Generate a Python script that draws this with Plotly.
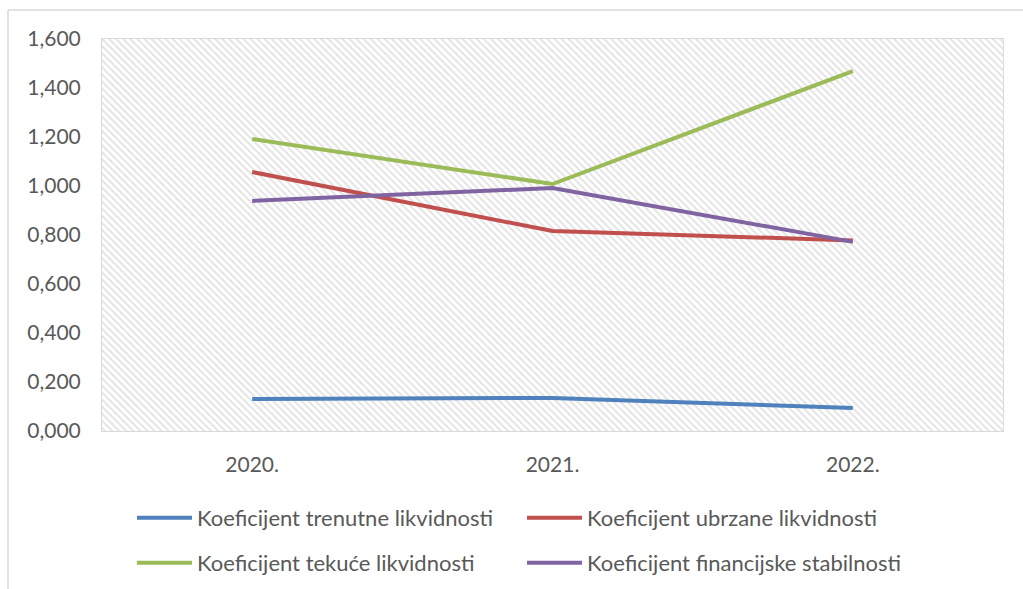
import plotly.graph_objects as go

years = ["2020.", "2021.", "2022."]
trenutne = [0.131, 0.135, 0.094]
ubrzane = [1.057, 0.816, 0.778]
tekuce = [1.192, 1.008, 1.469]
financijske = [0.939, 0.992, 0.772]

series = [
    ("Koeficijent trenutne likvidnosti", trenutne, "#4f81bd", "legend"),
    ("Koeficijent ubrzane likvidnosti", ubrzane, "#c0504d", "legend"),
    ("Koeficijent tekuće likvidnosti", tekuce, "#9bbb59", "legend2"),
    ("Koeficijent financijske stabilnosti", financijske, "#8064a2", "legend2"),
]

xpos = list(range(len(years)))
W, H = 1023, 589
L, R, T, B = 102, 20, 39, 158
pw, ph = W - L - R, H - T - B

fig = go.Figure()

# hatched plot-area background
fig.add_trace(go.Scatter(
    x=[-0.5, 2.5, 2.5, -0.5, -0.5], y=[0, 0, 1.6, 1.6, 0],
    mode="lines", line=dict(width=0), fill="toself",
    fillcolor="white",
    fillpattern=dict(shape="\\", fgcolor="#c8c8c8", bgcolor="white", size=5, solidity=0.4),
    showlegend=False, hoverinfo="skip"))

for name, vals, color, lg in series:
    fig.add_trace(go.Scatter(x=xpos, y=vals, mode="lines", name=name, legend=lg,
                             line=dict(color=color, width=4)))

legend_common = dict(orientation="h", xanchor="left", yanchor="top",
                     entrywidth=320, entrywidthmode="pixels",
                     itemwidth=55, tracegroupgap=0,
                     font=dict(size=22, color="#595959"), bgcolor="rgba(0,0,0,0)")

gridvals = [-0.5, 0, 0.5, 1, 1.5, 2, 2.5]
fig.update_layout(
    width=W, height=H,
    margin=dict(l=L, r=R, t=T, b=B, autoexpand=False),
    paper_bgcolor="white", plot_bgcolor="white",
    font=dict(family="Lato, Carlito, 'Liberation Sans', sans-serif", size=21, color="#595959"),
    xaxis=dict(range=[-0.5, 2.5], tickvals=gridvals,
               ticktext=["", years[0], "", years[1], "", years[2], ""],
               showgrid=True, gridcolor="#e3e3e3", gridwidth=1,
               showline=True, linecolor="#d9d9d9", linewidth=1, mirror=True,
               ticks="outside", ticklen=15, tickcolor="rgba(0,0,0,0)",
               zeroline=False, fixedrange=True),
    yaxis=dict(range=[0, 1.6], dtick=0.2, tickformat=",.3f",
               showgrid=True, gridcolor="#e3e3e3", gridwidth=1,
               showline=True, linecolor="#d9d9d9", linewidth=1, mirror=True,
               ticks="outside", ticklen=16, tickcolor="rgba(0,0,0,0)",
               zeroline=False),
    separators=",.",
    legend=dict(legend_common, x=(132 - L) / pw, y=(T + ph - 497) / ph),
    legend2=dict(legend_common, x=(132 - L) / pw, y=(T + ph - 542) / ph),
    shapes=[
        dict(type="line", xref="paper", yref="paper",
             x0=(8 - L) / pw, x1=(W + 10 - L) / pw,
             y0=(T + ph - 10) / ph, y1=(T + ph - 10) / ph,
             line=dict(color="#d9d9d9", width=1.5)),
        dict(type="line", xref="paper", yref="paper",
             x0=(8 - L) / pw, x1=(8 - L) / pw,
             y0=(T + ph - 10) / ph, y1=(T + ph - H - 10) / ph,
             line=dict(color="#d9d9d9", width=1.5)),
    ],
)

fig.write_html("out.html", config={"displayModeBar": False},
               post_script="document.body.style.margin='0';document.body.style.overflow='hidden';")
